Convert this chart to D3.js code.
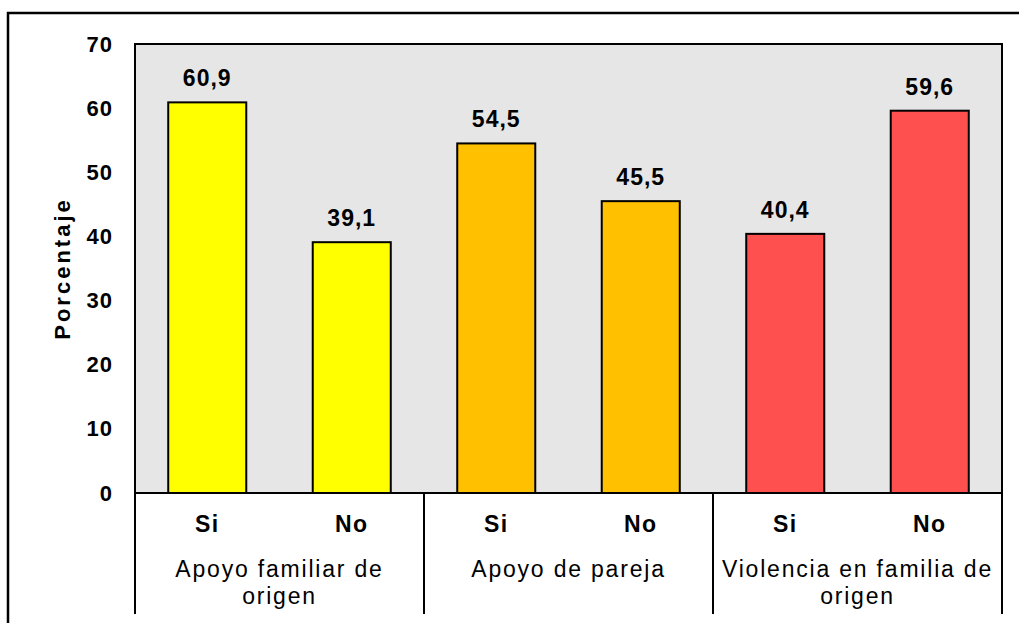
<!DOCTYPE html>
<html>
<head>
<meta charset="utf-8">
<script src="https://cdn.jsdelivr.net/npm/d3@7"></script>
<style>
  body { margin: 0; background: #fff; }
  text { font-family: "Liberation Sans", Arial, sans-serif; fill: #000; }
</style>
</head>
<body>
<svg width="1019" height="623"></svg>
<script>
var svg = d3.select("svg");

// datos
var grupos = ["Apoyo familiar de origen", "Apoyo de pareja", "Violencia en familia de origen"];
var grupoLineas = [["Apoyo familiar de", "origen"], ["Apoyo de pareja"], ["Violencia en familia de", "origen"]];
var respuestas = ["Si", "No"];
var valores = [[60.9, 39.1], [54.5, 45.5], [40.4, 59.6]];
var colores = ["#ffff00", "#ffc000", "#ff5050"];
var yTicks = [0, 10, 20, 30, 40, 50, 60, 70];

var mLeft = 135, mRight = 1002, mTop = 44, mBottom = 493;

// marco exterior (recortado a la derecha y abajo)
svg.append("rect")
  .attr("x", 8).attr("y", 13)
  .attr("width", 1030).attr("height", 640)
  .attr("fill", "none").attr("stroke", "#000").attr("stroke-width", 2.5);

var x0 = d3.scaleBand().domain(grupos).range([mLeft, mRight]);
var x1 = d3.scaleBand().domain(respuestas).range([0, x0.bandwidth()]).paddingInner(0.46).paddingOuter(0.23);
var y = d3.scaleLinear().domain([0, 70]).range([mBottom, mTop]);

svg.append("rect")
  .attr("x", mLeft).attr("y", mTop)
  .attr("width", mRight - mLeft).attr("height", mBottom - mTop)
  .attr("fill", "#e6e6e6");

var filas = [];
grupos.forEach(function(g, i) {
  respuestas.forEach(function(r, j) {
    filas.push({ grupo: g, resp: r, valor: valores[i][j], color: colores[i] });
  });
});

function centro(d) { return x0(d.grupo) + x1(d.resp) + x1.bandwidth() / 2; }

var barras = svg.append("g").selectAll("g")
  .data(filas)
  .enter().append("g");

barras.append("rect")
  .attr("x", function(d) { return x0(d.grupo) + x1(d.resp); })
  .attr("y", function(d) { return y(d.valor); })
  .attr("width", x1.bandwidth())
  .attr("height", function(d) { return y(0) - y(d.valor); })
  .attr("fill", function(d) { return d.color; })
  .attr("stroke", "#000").attr("stroke-width", 2);

barras.append("text")
  .attr("x", centro)
  .attr("y", function(d) { return y(d.valor) - 16; })
  .attr("text-anchor", "middle")
  .style("font-size", "23px").style("font-weight", "bold").style("letter-spacing", "1px")
  .text(function(d) { return d3.format(".1f")(d.valor).replace(".", ","); });

// borde del area
svg.append("rect")
  .attr("x", mLeft).attr("y", mTop)
  .attr("width", mRight - mLeft).attr("height", mBottom - mTop)
  .attr("fill", "none").attr("stroke", "#000").attr("stroke-width", 2);

// eje y
var yAxis = svg.append("g")
  .attr("transform", "translate(" + mLeft + ",0)")
  .call(d3.axisLeft(y).tickValues(yTicks).tickSize(0).tickPadding(22));
yAxis.select(".domain").remove();
yAxis.selectAll("text")
  .style("font-size", "22px").style("font-weight", "bold").style("letter-spacing", "1px")
  .style("font-family", "'Liberation Sans', Arial, sans-serif");

svg.append("text")
  .attr("transform", "translate(70," + ((mTop + mBottom) / 2) + ") rotate(-90)")
  .attr("text-anchor", "middle")
  .style("font-size", "22px").style("font-weight", "bold").style("letter-spacing", "3px")
  .text("Porcentaje");

// eje x categorias
var sep = grupos.map(function(g) { return x0(g); }).concat([mRight]);
svg.append("g").selectAll("line")
  .data(sep)
  .enter().append("line")
  .attr("x1", function(d) { return d; }).attr("x2", function(d) { return d; })
  .attr("y1", mBottom).attr("y2", 614)
  .attr("stroke", "#000").attr("stroke-width", 2);

barras.append("text")
  .attr("x", centro)
  .attr("y", 532)
  .attr("text-anchor", "middle")
  .style("font-size", "23px").style("font-weight", "bold").style("letter-spacing", "1.5px")
  .text(function(d) { return d.resp; });

grupos.forEach(function(g, i) {
  svg.append("text")
    .attr("x", x0(g) + x0.bandwidth() / 2)
    .attr("y", 577)
    .attr("text-anchor", "middle")
    .style("font-size", "23px").style("letter-spacing", "1.8px")
    .selectAll("tspan")
    .data(grupoLineas[i])
    .enter().append("tspan")
    .attr("x", x0(g) + x0.bandwidth() / 2)
    .attr("dy", function(d, k) { return k === 0 ? 0 : 27; })
    .text(function(d) { return d; });
});
</script>
</body>
</html>
